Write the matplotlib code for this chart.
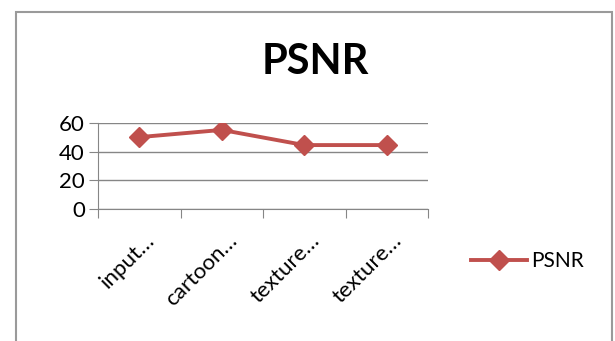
#!/usr/bin/env python3

from matplotlib import pyplot as pl
from matplotlib.patches import Rectangle
from matplotlib.transforms import ScaledTranslation

categories = ['input…', 'cartoon…', 'texture…', 'texture…']
psnr = [50, 55, 44.5, 44.5]
yticks = [0, 20, 40, 60]

pl.rcParams['font.family'] = ['Lato', 'DejaVu Sans']

fig = pl.figure(figsize=(6.15, 3.41), dpi=100)
ax = fig.add_axes([98 / 615, 1 - 209.3 / 341, 330 / 615, 86.6 / 341])

x = list(range(len(categories)))
ax.plot(x, psnr, color='#C0504D', linewidth=2.8, marker='D',
        markersize=10, label='PSNR')

ax.set_xlim(-0.5, len(categories) - 0.5)
ax.set_ylim(0, 60)
ax.set_yticks(yticks)
ax.set_xticks([i - 0.5 for i in range(len(categories) + 1)])
ax.set_xticklabels([])
ax.set_xticks(x, minor=True)
ax.set_xticklabels(categories, minor=True, rotation=45, ha='right',
                   va='center', rotation_mode='anchor', fontsize=16)
ax.tick_params(axis='x', which='minor', length=0, pad=20)
ax.tick_params(axis='x', which='major', length=6.5, color='#868686')
ax.tick_params(axis='y', length=6.5, color='#868686', labelsize=16, pad=3)
shift = ScaledTranslation(12 / 100, 0, fig.dpi_scale_trans)
for lab in ax.get_xticklabels(minor=True):
    lab.set_transform(lab.get_transform() + shift)

ax.grid(axis='y', color='#868686', linewidth=1)
ax.set_axisbelow(True)
for side in ['top', 'right']:
    ax.spines[side].set_visible(False)
for side in ['left', 'bottom']:
    ax.spines[side].set_color('#868686')

fig.text(315 / 615, 1 - 62 / 341, 'PSNR', ha='center', va='center',
         fontsize=30, fontweight='bold')

fig.legend(loc='center left', bbox_to_anchor=(452 / 615, 1 - 261 / 341),
           frameon=False, fontsize=15, handlelength=2.7, handletextpad=0.2)

fig.patches.append(Rectangle((16 / 615, -0.1), 596 / 615, 1.1 - 12 / 341,
                             transform=fig.transFigure, fill=False,
                             edgecolor='#9a9a9a', linewidth=1.5))

fig.savefig('out.png', dpi=100)
